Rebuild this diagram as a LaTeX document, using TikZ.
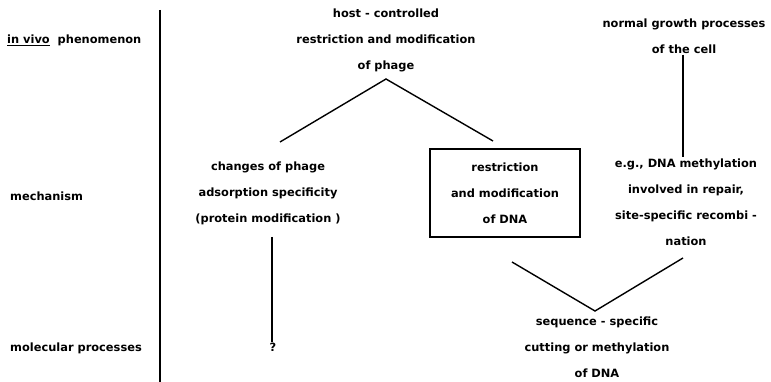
\documentclass[tikz,border=0pt]{standalone}
\usepackage{fontspec}
\setmainfont{DejaVu Sans}
\usetikzlibrary{calc}

\begin{document}
\begin{tikzpicture}[x=1pt, y=-1pt,
	txt/.style={align=center, inner sep=1pt, font=\fontsize{11.4}{26}\selectfont\bfseries},
	rowlabel/.style={anchor=west, inner sep=0pt, font=\fontsize{11.4}{13}\selectfont\bfseries},
	stroke/.style={line width=1.4pt}]
		%%%%% START %%%%%
		\useasboundingbox (0, 0) rectangle (771, 382);
		
		% row labels and divider
		\node[rowlabel] (vivo) at (7, 40) {\underline{in vivo}\ \ phenomenon};
		\node[rowlabel] (mech) at (10, 196) {mechanism};
		\node[rowlabel] (molec) at (10, 348) {molecular processes};
		\draw[stroke] (160, 10) -- (160, 382);
		
		% top level
		\node[txt] (phage) at (386, 40) {host - controlled\\restriction and modification\\of phage};
		\node[txt] (cell) at (684, 36) {normal growth processes\\of the cell};
		
		% mechanism level
		\node[txt] (adsorb) at (268, 193) {changes of phage\\adsorption specificity\\(protein modification )};
		\node[txt, draw, line width=1.4pt, minimum width=150, minimum height=88] (rm) at (505, 193) {restriction\\and modification\\of DNA};
		\node[txt] (methyl) at (686, 202) {e.g., DNA methylation\\involved in repair,\\site-specific recombi -\\nation};
		
		% molecular level
		\node[txt] (unknown) at (273, 347) {?};
		\node[txt] (cutting) at (597, 347) {sequence - specific\\cutting or methylation\\of DNA};
		
		% connectors
		\coordinate (apex) at (386, 79);
		\coordinate (lfoot) at (280, 142);
		\coordinate (rfoot) at (493, 141);
		\draw[stroke] (lfoot) -- (apex) -- (rfoot);
		
		\draw[stroke] (cell.south -| 683, 0) -- (methyl.north -| 683, 0);
		
		\coordinate (qtop) at (272, 237);
		\draw[stroke] (qtop) -- (unknown.north -| qtop);
		
		\coordinate (vleft) at (512, 262);
		\coordinate (vtip) at (595, 311);
		\coordinate (vright) at (683, 258);
		\draw[stroke] (vleft) -- (vtip) -- (vright);
		%%%%% END %%%%%
\end{tikzpicture}
\end{document}
